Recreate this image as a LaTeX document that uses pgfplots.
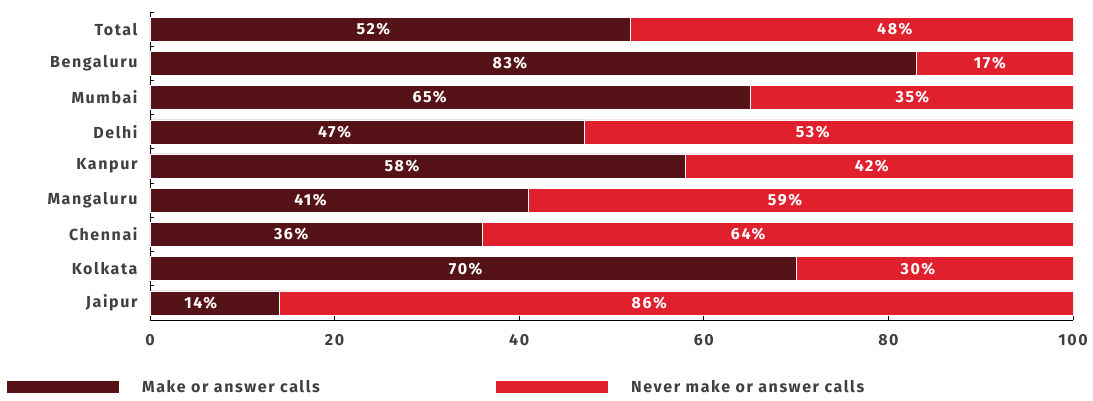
\documentclass[border=0pt]{standalone}
\usepackage{pgfplots}
\pgfplotsset{compat=1.18}
\usepackage{pgfplotstable}
\usepackage{fontspec}
\setmainfont{Fira Sans}[LetterSpace=10]
\definecolor{darkred}{HTML}{561317}
\definecolor{brightred}{HTML}{E0202D}
\definecolor{txt}{HTML}{404040}
\newcommand{\lblfont}{\fontsize{16pt}{19pt}\selectfont\bfseries}
% y: row index; a: make/answer; b: never; pa, pb: label positions
\pgfplotstableread{
y a b pa pb
0 52 48 24.2 80.7
1 83 17 39.0 91.0
2 65 35 30.3 82.6
3 47 53 20.0 71.8
4 58 42 27.3 78.2
5 41 59 17.4 68.8
6 36 64 15.3 64.8
7 70 30 34.2 83.2
8 14 86 5.5 54.1
}\data
\pgfplotsset{common/.style={
  scale only axis,
  width=923pt, height=308pt,
  xmin=0, xmax=100,
  ymin=-0.5, ymax=8.5,
  y dir=reverse,
  /pgf/number format/assume math mode=true,
}}
\begin{document}
\begin{tikzpicture}
\begin{axis}[
  common, name=ax,
  xbar stacked,
  bar width=24pt,
  axis x line*=bottom,
  axis y line*=left,
  xtick={0,20,40,60,80,100},
  ytick={0,...,8},
  yticklabels={Total,Bengaluru,Mumbai,Delhi,Kanpur,Mangaluru,Chennai,Kolkata,Jaipur},
  major y tick style={draw=none},
  minor ytick={-0.5,0.5,...,8.5},
  minor tick length=4pt,
  major tick length=4pt,
  xtick align=inside,
  ytick align=inside,
  tick style={black, line width=0.8pt},
  axis line style={black, line width=0.8pt},
  ticklabel style={font=\lblfont, text=txt},
  xticklabel style={yshift=-11pt},
  yticklabel style={xshift=-9pt},
  legend style={draw=none, fill=none, at={(-143/923,-58/308)}, anchor=north west,
    legend columns=2, font=\lblfont, text=txt,
    cells={anchor=west}, inner sep=0pt},
  legend image code/.code={\fill[#1, draw=none] (0pt,-6pt) rectangle (112pt,6pt); \path[draw=none, fill=none] (0pt,0pt) -- (133pt,0pt);},
]
\addplot[fill=darkred, draw=white, line width=0.4pt]
  table[x=a, y=y] {\data};
\addlegendentry{\makebox[352pt][l]{Make or answer calls}}
\addplot[fill=brightred, draw=white, line width=0.4pt]
  table[x=b, y=y] {\data};
\addlegendentry{Never make or answer calls}
\end{axis}
\begin{axis}[
  common, hide axis,
  nodes near coords={\pgfmathprintnumber{\pgfplotspointmeta}\%},
  point meta=explicit,
  every node near coord/.style={anchor=center, text=white, font=\lblfont},
]
\addplot[draw=none, mark=none] table[x=pa, y=y, meta=a] {\data};
\addplot[draw=none, mark=none] table[x=pb, y=y, meta=b] {\data};
\end{axis}
\pgfresetboundingbox
\path[use as bounding box] ([xshift=-150pt,yshift=-81pt]ax.south west) rectangle ([xshift=20pt,yshift=12pt]ax.north east);
\end{tikzpicture}
\end{document}
